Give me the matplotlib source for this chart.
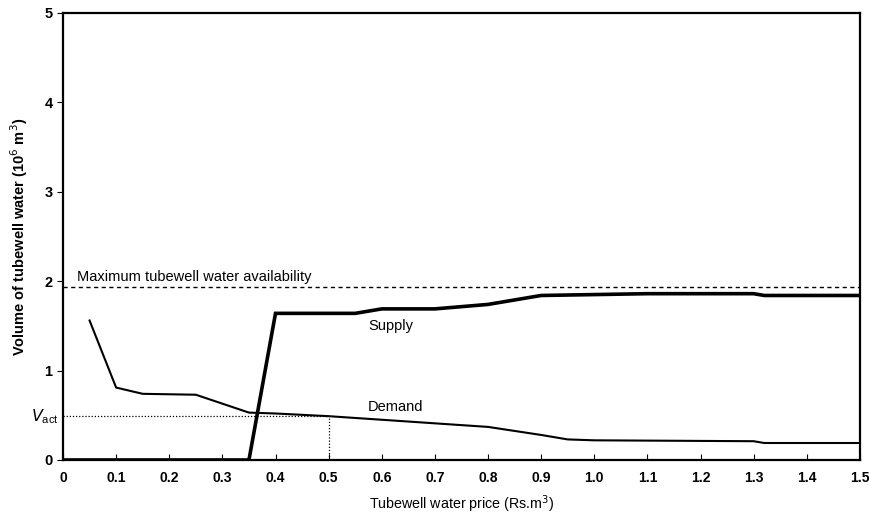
import matplotlib
matplotlib.use('Agg')
import matplotlib.pyplot as plt

plt.rcParams['font.family'] = ['Liberation Sans', 'DejaVu Sans']

# demand curve (price, volume)
demand_price = [0.05, 0.10, 0.15, 0.25, 0.35, 0.40, 0.50, 0.60, 0.70, 0.80, 0.90, 0.95, 1.00, 1.30, 1.32, 1.50]
demand_vol = [1.56, 0.81, 0.74, 0.73, 0.53, 0.52, 0.49, 0.45, 0.41, 0.37, 0.28, 0.23, 0.22, 0.21, 0.19, 0.19]

# supply curve
supply_price = [0.0, 0.35, 0.40, 0.55, 0.60, 0.70, 0.80, 0.90, 1.10, 1.30, 1.32, 1.50]
supply_vol = [0.0, 0.0, 1.64, 1.64, 1.69, 1.69, 1.74, 1.84, 1.86, 1.86, 1.84, 1.84]

max_avail = 1.93
v_act = 0.49
p_act = 0.5

xticks = [0, 0.1, 0.2, 0.3, 0.4, 0.5, 0.6, 0.7, 0.8, 0.9, 1.0, 1.1, 1.2, 1.3, 1.4, 1.5]
xlabels = ['0', '0.1', '0.2', '0.3', '0.4', '0.5', '0.6', '0.7', '0.8', '0.9', '1.0', '1.1', '1.2', '1.3', '1.4', '1.5']
yticks = [0, 1, 2, 3, 4, 5]

fig = plt.figure(figsize=(8.69, 5.18), dpi=100)
ax = fig.add_axes([0.0725, 0.112, 0.917, 0.863])

ax.plot(supply_price, supply_vol, color='black', lw=2.6, solid_joinstyle='miter')
ax.plot(demand_price, demand_vol, color='black', lw=1.5)
ax.axhline(max_avail, color='black', lw=1.0, ls=(0, (3, 2.5)))
ax.plot([0, p_act], [v_act, v_act], color='black', lw=0.9, ls=(0, (1, 1.5)))
ax.plot([p_act, p_act], [0, v_act], color='black', lw=0.9, ls=(0, (1, 1.5)))

ax.text(0.027, max_avail + 0.04, 'Maximum tubewell water availability', fontsize=10.5, va='bottom')
ax.text(0.574, 1.50, 'Supply', fontsize=10.5, va='center')
ax.text(0.574, 0.59, 'Demand', fontsize=10.5, va='center')
ax.text(-0.008, v_act, r'$V_{\mathregular{act}}$', fontsize=11.5, ha='right', va='center')

ax.set_xlim(0, 1.5)
ax.set_ylim(0, 5)
ax.set_xticks(xticks)
ax.set_xticklabels(xlabels)
ax.set_yticks(yticks)
ax.tick_params(axis='x', direction='in', length=4, labelsize=10, pad=8)
ax.tick_params(axis='y', direction='out', length=4, labelsize=10.5)
for lab in ax.get_xticklabels() + ax.get_yticklabels():
    lab.set_fontweight('bold')
for sp in ax.spines.values():
    sp.set_linewidth(1.6)

ax.set_xlabel('Tubewell water price (Rs.m$^3$)', fontsize=10.3, labelpad=6)
ax.set_ylabel('Volume of tubewell water (10$^6$ m$^3$)', fontsize=10.5, fontweight='bold', labelpad=10)

fig.savefig('out.png', dpi=100)
